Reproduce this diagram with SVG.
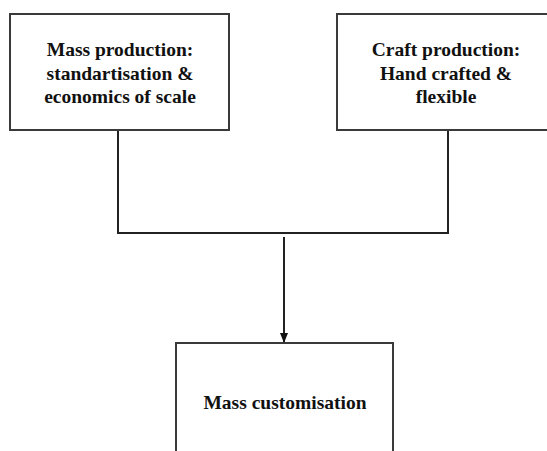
<svg xmlns="http://www.w3.org/2000/svg" width="547" height="451" viewBox="0 0 547 451">
  <style>
    .box { fill: #ffffff; stroke: #3a3a3a; stroke-width: 2; }
    .lbl { font-family: 'Liberation Serif', 'Times New Roman', Times, 'DejaVu Serif', serif; font-weight: bold; font-size: 19.5px; fill: #111111; text-anchor: middle; }
    .wire { fill: none; stroke: #222222; stroke-width: 2; }
  </style>
  <defs>
    <marker id="arrow" markerWidth="10" markerHeight="8" refX="10" refY="4" orient="auto" markerUnits="userSpaceOnUse" viewBox="0 0 10 8">
      <path d="M0,0 L10,4 L0,8 Z" fill="#111111"/>
    </marker>
  </defs>
  <rect width="547" height="451" fill="#ffffff"/>

  <g id="connectors">
    <polyline class="wire" points="118,130 118,233 448,233 448,130"/>
    <line class="wire" x1="284" y1="237" x2="284" y2="343" marker-end="url(#arrow)"/>
  </g>

  <g id="mass-production">
    <rect class="box" x="10" y="14" width="219" height="116"/>
    <text class="lbl" x="120" y="56">Mass production:</text>
    <text class="lbl" x="120" y="80">standartisation &amp;</text>
    <text class="lbl" x="120" y="103">economics of scale</text>
  </g>

  <g id="craft-production">
    <rect class="box" x="337" y="14" width="212" height="116"/>
    <text class="lbl" x="446" y="56">Craft production:</text>
    <text class="lbl" x="446" y="80">Hand crafted &amp;</text>
    <text class="lbl" x="446" y="103">flexible</text>
  </g>

  <g id="mass-customisation">
    <rect class="box" x="176" y="343" width="217" height="120"/>
    <text class="lbl" x="285" y="409">Mass customisation</text>
  </g>
</svg>
